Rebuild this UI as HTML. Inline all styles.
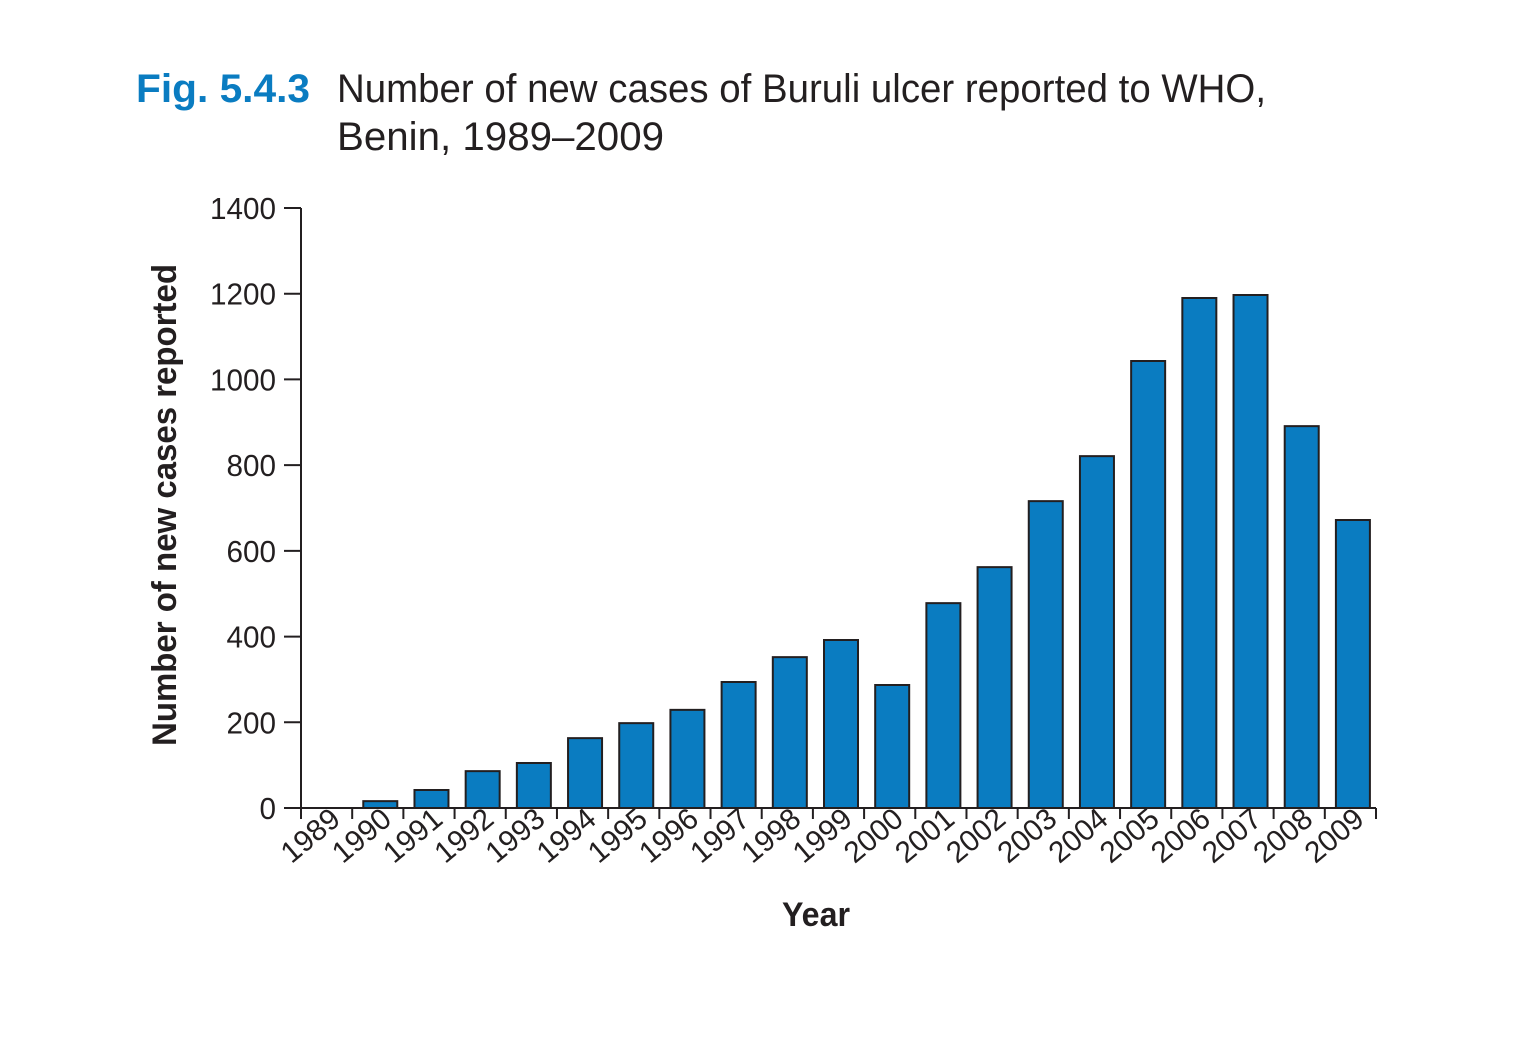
<!DOCTYPE html>
<html><head><meta charset="utf-8">
<style>
body{margin:0;background:#fff;}
svg{display:block;font-family:"Liberation Sans Narrow","Liberation Sans",sans-serif;}
</style></head>
<body>
<svg id="chart" width="1518" height="1042">
<text x="136" y="102" font-size="40" font-weight="bold" fill="#0a7cc1" textLength="174" lengthAdjust="spacingAndGlyphs">Fig. 5.4.3</text>
<text x="337" y="102" font-size="40" fill="#231f20" textLength="929" lengthAdjust="spacingAndGlyphs">Number of new cases of Buruli ulcer reported to WHO,</text>
<text x="337" y="150" font-size="40" fill="#231f20" textLength="327" lengthAdjust="spacingAndGlyphs">Benin, 1989–2009</text>
<text transform="translate(176,505) rotate(-90)" text-anchor="middle" font-size="34" font-weight="bold" fill="#231f20" textLength="482" lengthAdjust="spacingAndGlyphs">Number of new cases reported</text>
<text x="816" y="926" text-anchor="middle" font-size="34" font-weight="bold" fill="#231f20" textLength="68" lengthAdjust="spacingAndGlyphs">Year</text>
<g id="plot"></g>
</svg>
<script>
const years = ["1989","1990","1991","1992","1993","1994","1995","1996","1997","1998","1999","2000","2001","2002","2003","2004","2005","2006","2007","2008","2009"];
const cases = [0,16,42,86,105,163,198,229,294,352,392,287,478,562,716,821,1043,1190,1197,891,672];
const yTicks = [0,200,400,600,800,1000,1200,1400];
const X0=301,X1=1376,Y0=808,Y1=208,YMAX=1400;
const bw=(X1-X0)/years.length;
const y=v=>Y0-(v/YMAX)*(Y0-Y1);
const xc=i=>X0+bw*(i+0.5)+2.5;
const NS='http://www.w3.org/2000/svg';
const g=document.getElementById('plot');
function mk(t,a){const e=document.createElementNS(NS,t);for(const k in a)e.setAttribute(k,a[k]);g.appendChild(e);return e;}
cases.forEach((v,i)=>{
  if(v<=0)return;
  const r=mk('rect',{x:xc(i)-17,y:y(v),width:34,height:Y0-y(v),fill:'#0a7cc1',stroke:'#231f20','stroke-width':2});
  
  
});
const ya=mk('line',{x1:X0,y1:Y1,x2:X0,y2:Y0,stroke:'#231f20','stroke-width':2});


const xa=mk('line',{x1:284,y1:Y0,x2:X1,y2:Y0,stroke:'#231f20','stroke-width':2});


yTicks.forEach(t=>{
  const l=mk('line',{x1:284,y1:y(t),x2:X0,y2:y(t),stroke:'#231f20','stroke-width':2});
  
  
  const tx=mk('text',{x:276,y:y(t)+11,'text-anchor':'end','font-size':31,fill:'#231f20',textLength:String(t).length*16.5,lengthAdjust:'spacingAndGlyphs'});
  tx.textContent=t;
  
  
});
for(let i=0;i<=years.length;i++){
  const l=mk('line',{x1:X0+bw*i,y1:Y0,x2:X0+bw*i,y2:Y0+11,stroke:'#231f20','stroke-width':2});
  
  
}
years.forEach((yr,i)=>{
  const cx=xc(i)+13, cy=822;
  const tx=mk('text',{x:cx,y:cy,'text-anchor':'end','font-size':30,fill:'#231f20',textLength:66,lengthAdjust:'spacingAndGlyphs',transform:`rotate(-40 ${cx} ${cy})`});
  tx.textContent=yr;
  
  
});
</script>
</body></html>
